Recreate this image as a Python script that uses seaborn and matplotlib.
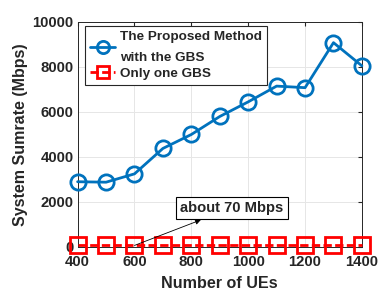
import pandas as pd
import matplotlib
matplotlib.use('Agg')
import matplotlib.pyplot as plt
import seaborn as sns

# Data
num_ues = [400, 500, 600, 700, 800, 900, 1000, 1100, 1200, 1300, 1400]
proposed_rate = [2900, 2880, 3250, 4380, 5000, 5800, 6450, 7150, 7080, 9080, 8050]
single_gbs_rate = [70, 70, 70, 70, 70, 70, 70, 70, 70, 70, 70]

label_proposed = 'The Proposed Method\nwith the GBS'
label_single = 'Only one GBS'

df = pd.DataFrame({
    'ues': num_ues * 2,
    'rate': proposed_rate + single_gbs_rate,
    'method': [label_proposed] * len(num_ues) + [label_single] * len(num_ues),
})

sns.set_style('whitegrid')
plt.rcParams['font.family'] = ['Liberation Sans', 'DejaVu Sans']
plt.rcParams['font.weight'] = 'bold'

fig = plt.figure(figsize=(3.9, 2.93), dpi=100)
ax = fig.add_axes([0.199, 0.157, 0.729, 0.768])

palette = {label_proposed: '#0072BD', label_single: '#FF0000'}
markers = {label_proposed: 'o', label_single: 's'}
sns.lineplot(data=df, x='ues', y='rate', hue='method', style='method',
             palette=palette, markers=markers, dashes={label_proposed: '', label_single: (3, 1.2)},
             linewidth=2, markersize=11, markerfacecolor='none', markeredgewidth=2,
             ax=ax, legend=False)
for line in ax.lines:
    line.set_markerfacecolor('none')
    line.set_markeredgecolor(line.get_color())
    line.set_clip_on(False)
    line.set_zorder(5)

ax.set_xlim(400, 1400)
ax.set_ylim(0, 10000)
ax.set_xticks(range(400, 1401, 200))
ax.set_yticks(range(0, 10001, 2000))
ax.tick_params(labelsize=10.7, colors='#262626', length=3, direction='in',
               top=True, right=True)
ax.tick_params(axis='x', pad=6)
ax.tick_params(axis='y', pad=3)
for lab in ax.get_xticklabels() + ax.get_yticklabels():
    lab.set_fontweight('bold')
ax.set_xlabel('Number of UEs', fontsize=11.6, fontweight='bold', color='#262626', labelpad=5)
ax.set_ylabel('System Sumrate (Mbps)', fontsize=11.5, fontweight='bold', color='#262626', labelpad=3)
ax.grid(True, color='#e6e6e6', linewidth=0.7)
for spine in ax.spines.values():
    spine.set_color('#262626')
    spine.set_linewidth(0.7)

handles = ax.lines[:2]
leg = ax.legend(handles, [label_proposed, label_single], loc='upper left',
                bbox_to_anchor=(0.026, 0.982), borderaxespad=0, frameon=True, fancybox=False,
                handlelength=1.85, handletextpad=0.35, borderpad=0.4, labelspacing=0.3,
                markerscale=0.8, prop={'weight': 'bold', 'size': 9.7})
leg.texts[0].set_linespacing(1.9)
leg.get_frame().set_edgecolor('#262626')
leg.get_frame().set_linewidth(0.8)
leg.get_frame().set_alpha(1)
leg.set_zorder(10)

ax.annotate('about 70 Mbps', xy=(600, 70), xytext=(760, 1730),
            fontsize=10.6, fontweight='bold', va='center', ha='left', zorder=10,
            bbox=dict(boxstyle='square,pad=0.3', fc='white', ec='black', lw=0.8),
            arrowprops=dict(arrowstyle='<|-', color='black', lw=0.6, mutation_scale=8,
                            shrinkA=0, shrinkB=0))

plt.savefig('out.png', dpi=100)
